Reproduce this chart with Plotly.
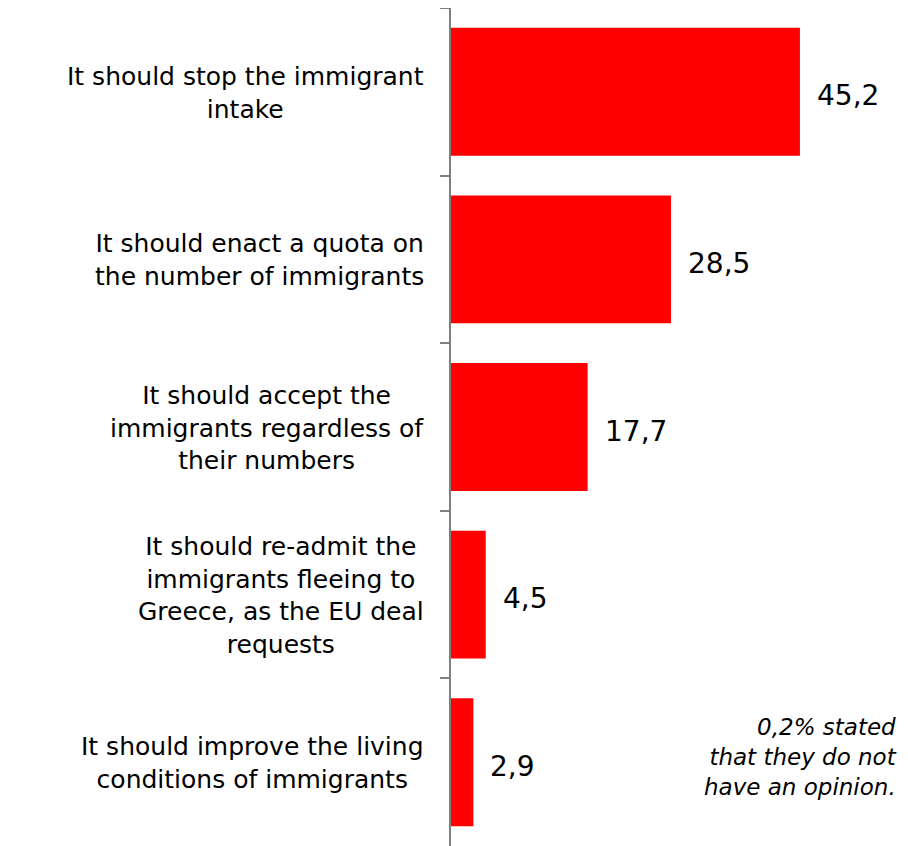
import plotly.graph_objects as go

# survey answers, top to bottom
answers = [
    "It should stop the immigrant<br>intake",
    "It should enact a quota on<br>the number of immigrants",
    "It should accept the<br>immigrants regardless of<br>their numbers",
    "It should re-admit the<br>immigrants fleeing to<br>Greece, as the EU deal<br>requests",
    "It should improve the living<br>conditions of immigrants",
]
shares = [45.2, 28.5, 17.7, 4.5, 2.9]
note = "0,2% stated<br>that they do not<br>have an opinion."

FONT = "DejaVu Sans"

fig = go.Figure(go.Bar(
    x=shares,
    y=answers,
    orientation="h",
    marker=dict(color="#ff0000", line=dict(width=0)),
    hoverinfo="skip",
))

# category labels, centred lines like the original
for a in answers:
    fig.add_annotation(
        x=0, xref="paper", y=a, yref="y",
        text=a, showarrow=False,
        xanchor="right", align="center",
        xshift=-25, yshift=-1,
        font=dict(family=FONT, size=25, color="black"),
    )

# value labels
for a, v in zip(answers, shares):
    fig.add_annotation(
        x=v, y=a, text=f"{v:.1f}".replace(".", ","),
        showarrow=False, xanchor="left", xshift=15, yshift=-4,
        font=dict(family=FONT, size=28, color="black"),
    )

fig.add_annotation(
    x=1, xref="paper", y=answers[-1], yref="y",
    text=f"<i>{note}</i>", showarrow=False,
    xanchor="right", align="right", xshift=-9, yshift=5,
    font=dict(family=FONT, size=23, color="black"),
)

# page has an 8px body margin, so the figure is sized to fill the rest
fig.update_layout(
    width=900, height=838,
    margin=dict(l=443, r=0, t=0, b=0),
    plot_bgcolor="white", paper_bgcolor="white",
    bargap=0.237,
    showlegend=False,
)
fig.update_xaxes(range=[0, 59.2], visible=False)
fig.update_yaxes(
    autorange="reversed",
    showticklabels=False,
    showline=True, linecolor="#808080", linewidth=1.5,
    ticks="outside", ticklen=9, tickcolor="#808080", tickwidth=1.5,
    tickson="boundaries",
    showgrid=False, zeroline=False,
)

fig.write_html("out.html")
